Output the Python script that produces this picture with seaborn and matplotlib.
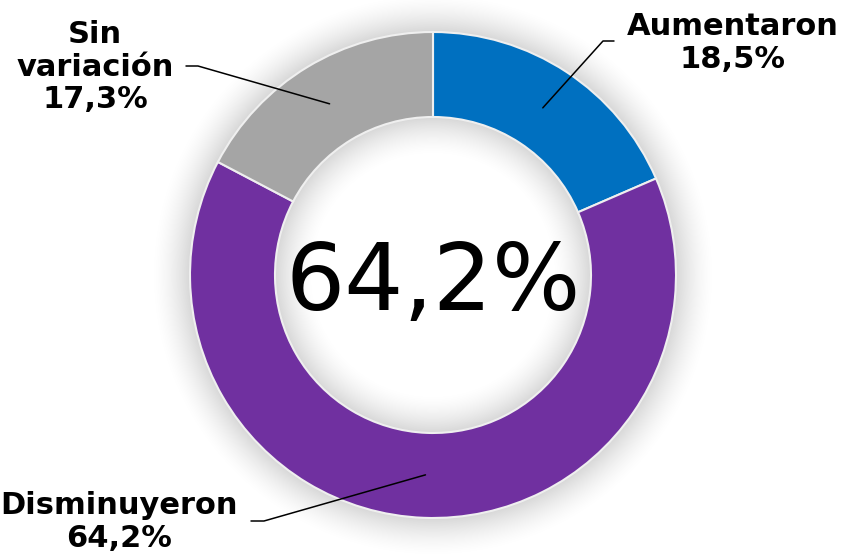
import numpy as np
import seaborn as sns
import matplotlib.pyplot as plt

categories = ['Aumentaron', 'Disminuyeron', 'Sin\nvariación']
values = [18.5, 64.2, 17.3]
colors = ['#0070C0', '#7030A0', '#A5A5A5']
center_label = '64,2%'

# label block positions and leader-line elbows (pixel units, y up)
label_pos = [(733, 515), (119, 36), (95, 491)]
elbows = [[(603, 517), (614, 517)], [(264, 37), (251, 37)], [(198, 492), (186, 492)]]

sns.set_theme(style="white")
plt.rcParams['font.family'] = ['DejaVu Sans']
plt.rcParams['text.color'] = 'black'

W, H = 850, 558
cx, cy = 433, 283
r_out, r_in = 243, 158

fig = plt.figure(figsize=(8.5, 5.58), dpi=100)
ax = fig.add_axes([0, 0, 1, 1])

# soft shadow around the ring
yy, xx = np.mgrid[0:H, 0:W] + 0.5
rr = np.hypot(xx - cx, yy - cy)
d = np.maximum(np.maximum(rr - r_out, r_in - rr), 0)
glow = np.zeros((H, W, 4))
glow[..., 3] = 0.16 * np.clip(1 - d / 40.0, 0, 1) ** 1.6
ax.imshow(glow, extent=(0, W, 0, H), origin='lower', zorder=0, interpolation='bilinear')

wedges, _ = ax.pie(values, colors=sns.color_palette(colors), startangle=90, counterclock=False,
                   radius=r_out, center=(cx, cy),
                   wedgeprops=dict(width=r_out - r_in, edgecolor='#EFEFEF', linewidth=1.5))
for w in wedges:
    w.set_zorder(2)

for w, cat, val, pos, elb in zip(wedges, categories, values, label_pos, elbows):
    ang = np.deg2rad((w.theta1 + w.theta2) / 2)
    x0 = cx + 200 * np.cos(ang)
    y0 = cy + 200 * np.sin(ang)
    xs = [x0] + [p[0] for p in elb]
    ys = [y0] + [p[1] for p in elb]
    ax.plot(xs, ys, color='black', lw=1.1, zorder=3)
    ax.text(pos[0], pos[1], f"{cat}\n{val:.1f}%".replace('.', ','), ha='center', va='center',
            fontsize=22, fontweight='bold', linespacing=1.15, color='black', zorder=4)

ax.text(cx, 248, center_label, ha='center', va='baseline', fontsize=67, color='black', zorder=4)

ax.set_xlim(0, W)
ax.set_ylim(0, H)
ax.set_aspect('equal')
ax.axis('off')
fig.savefig('out.png', dpi=100)
